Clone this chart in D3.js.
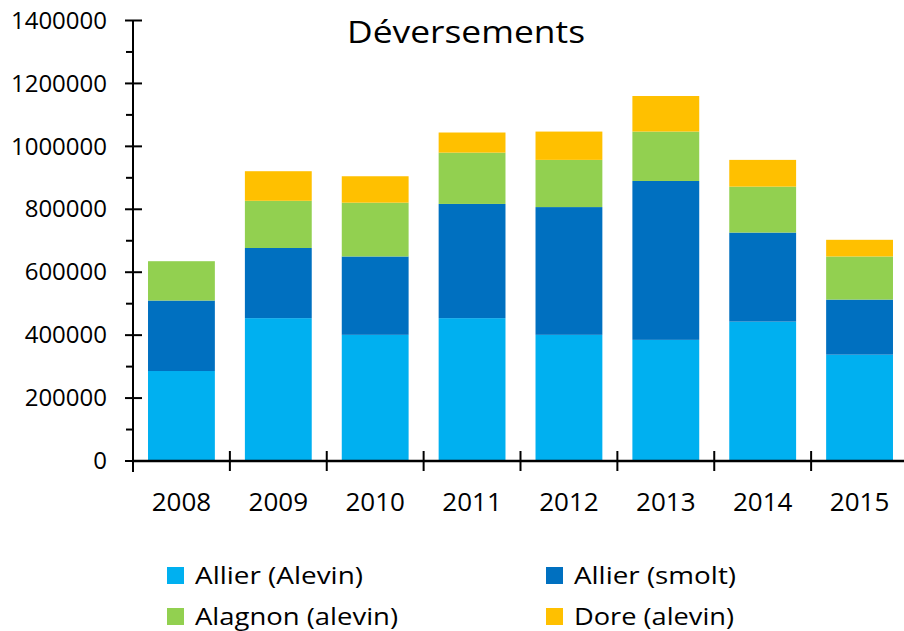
<!DOCTYPE html>
<html lang="fr">
<head>
<meta charset="UTF-8" />
<title>Déversements</title>
<style>
  body { margin: 0; background: #fff; }
  text { font-family: "Open Sans", Lato, sans-serif; fill: #000; }
</style>
</head>
<body>
<script src="https://cdn.jsdelivr.net/npm/d3@7/dist/d3.min.js"></script>
<script>
// data
var years = ["2008", "2009", "2010", "2011", "2012", "2013", "2014", "2015"];
var allierAlevin  = [286000, 454000, 401000, 454000, 401000, 385000, 443000, 338000];
var allierSmolt   = [224000, 223000, 249000, 363000, 406000, 505000, 283000, 175000];
var alagnonAlevin = [125000, 150000, 171000, 163000, 150000, 157000, 146000, 137000];
var doreAlevin    = [0, 94000, 84000, 64000, 90000, 113000, 85000, 53000];
var seriesNames = ["Allier (Alevin)", "Allier (smolt)", "Alagnon (alevin)", "Dore (alevin)"];
var colors = ["#00B0F0", "#0070C0", "#92D050", "#FFC000"];
var yTicks = [0, 200000, 400000, 600000, 800000, 1000000, 1200000, 1400000];

var w = 904, h = 631;
var x0 = 133, x1 = 908, yTop = 20.5, yBot = 461;

var svg = d3.select("body").append("svg")
  .attr("width", w).attr("height", h);

var rows = years.map(function(yr, i) {
  return { year: yr, s0: allierAlevin[i], s1: allierSmolt[i], s2: alagnonAlevin[i], s3: doreAlevin[i] };
});
var stacked = d3.stack().keys(["s0", "s1", "s2", "s3"])(rows);

var xScale = d3.scaleBand().domain(years).range([x0, x1]).paddingInner(0.31).paddingOuter(0.155);
var yScale = d3.scaleLinear().domain([0, 1400000]).range([yBot, yTop]);

// bars
svg.selectAll("g.layer")
  .data(stacked)
  .enter().append("g")
  .attr("class", "layer")
  .attr("fill", function(d, i) { return colors[i]; })
  .selectAll("rect")
  .data(function(d) { return d; })
  .enter().append("rect")
  .attr("x", function(d) { return xScale(d.data.year); })
  .attr("width", xScale.bandwidth())
  .attr("y", function(d) { return yScale(d[1]); })
  .attr("height", function(d) { return yScale(d[0]) - yScale(d[1]); });

// y axis labels
var yAxis = d3.axisLeft(yScale).tickValues(yTicks).tickSize(0).tickPadding(26)
  .tickFormat(d3.format("d"));
var gy = svg.append("g").attr("transform", "translate(" + x0 + ",0)").call(yAxis);
gy.select(".domain").remove();
gy.selectAll("text").style("font-size", "24px").style("font-family", "'Open Sans', sans-serif").attr("fill", "#000");

// y axis line and ticks
var minor = d3.range(100000, 1400000, 200000);
svg.append("line").attr("x1", x0).attr("x2", x0).attr("y1", yTop).attr("y2", yBot + 11)
  .attr("stroke", "#000").attr("stroke-width", 2);
svg.selectAll("line.ymaj").data(yTicks).enter().append("line")
  .attr("class", "ymaj")
  .attr("x1", x0 - 8).attr("x2", x0 + 9)
  .attr("y1", function(d) { return yScale(d); }).attr("y2", function(d) { return yScale(d); })
  .attr("stroke", "#000").attr("stroke-width", 2);
svg.selectAll("line.ymin").data(minor).enter().append("line")
  .attr("class", "ymin")
  .attr("x1", x0 - 7).attr("x2", x0)
  .attr("y1", function(d) { return yScale(d); }).attr("y2", function(d) { return yScale(d); })
  .attr("stroke", "#000").attr("stroke-width", 2);

// x axis
var xAxis = d3.axisBottom(xScale).tickSize(0).tickPadding(32);
var gx = svg.append("g").attr("transform", "translate(0," + yBot + ")").call(xAxis);
gx.select(".domain").remove();
gx.selectAll("text").style("font-size", "26px").style("font-family", "'Open Sans', sans-serif").attr("fill", "#000");

svg.append("line").attr("x1", x0).attr("x2", x1).attr("y1", yBot).attr("y2", yBot)
  .attr("stroke", "#000").attr("stroke-width", 2.5);
var step = xScale.step();
var bounds = years.map(function(d, i) { return x0 + (i + 1) * step; });
svg.selectAll("line.xt").data(bounds).enter().append("line")
  .attr("class", "xt")
  .attr("x1", function(d) { return d; }).attr("x2", function(d) { return d; })
  .attr("y1", yBot - 10).attr("y2", yBot + 10)
  .attr("stroke", "#000").attr("stroke-width", 2);

// title
svg.append("text").attr("x", 347).attr("y", 42.5)
  .attr("textLength", 238).attr("lengthAdjust", "spacingAndGlyphs")
  .style("font-size", "31px").text("Déversements");

// legend (second row nudged up a little so descenders stay inside the page)
var legPos = [[167, 567], [546, 567], [167, 608], [546, 608]];
var legLen = [168, 162, 203, 160];
var leg = svg.selectAll("g.leg").data(seriesNames).enter().append("g")
  .attr("class", "leg")
  .attr("transform", function(d, i) { return "translate(" + legPos[i][0] + "," + legPos[i][1] + ")"; });
leg.append("rect").attr("width", 17).attr("height", 17)
  .attr("fill", function(d, i) { return colors[i]; });
leg.append("text").attr("x", 28).attr("y", 17)
  .style("font-size", function(d, i) { return i < 2 ? "24px" : "23px"; })
  .attr("textLength", function(d, i) { return legLen[i]; })
  .attr("lengthAdjust", "spacingAndGlyphs")
  .text(function(d) { return d; });
</script>
</body>
</html>
